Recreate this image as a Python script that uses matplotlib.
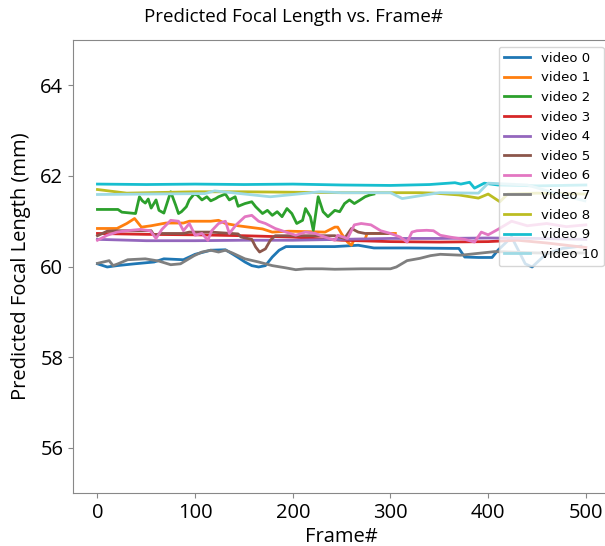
import matplotlib.pyplot as plt

# frame numbers / predicted focal length (mm)
v0_x = [0, 10, 20, 38, 58, 68, 88, 100, 116, 131, 138, 144, 151, 158, 165, 172, 179, 186, 193, 243, 267, 283, 317, 365, 370, 376, 390, 404, 410, 424, 438, 445, 459, 476, 495]
v0_y = [60.06, 59.99, 60.02, 60.06, 60.1, 60.17, 60.15, 60.27, 60.36, 60.37, 60.28, 60.2, 60.1, 60.02, 59.99, 60.02, 60.21, 60.36, 60.44, 60.44, 60.47, 60.41, 60.41, 60.4, 60.4, 60.21, 60.2, 60.2, 60.36, 60.65, 60.06, 59.99, 60.27, 60.4, 60.45]

v1_x = [0, 20, 30, 38, 45, 55, 70, 88, 94, 116, 124, 131, 144, 169, 179, 196, 233, 243, 246, 250, 256, 260, 263, 274, 276, 305]
v1_y = [60.84, 60.84, 60.95, 61.06, 60.87, 60.9, 60.96, 60.96, 61.0, 61.0, 61.02, 60.95, 60.9, 60.83, 60.76, 60.78, 60.76, 60.87, 60.87, 60.72, 60.54, 60.47, 60.6, 60.6, 60.73, 60.73]

v2_x = [0, 21, 25, 39, 43, 46, 49, 52, 55, 60, 63, 68, 75, 80, 83, 86, 91, 94, 99, 102, 107, 112, 116, 121, 124, 131, 135, 141, 144, 151, 158, 162, 169, 174, 179, 184, 189, 194, 199, 204, 210, 213, 218, 221, 226, 231, 236, 243, 248, 253, 258, 263, 269, 274, 279, 283]
v2_y = [61.26, 61.26, 61.2, 61.17, 61.54, 61.45, 61.4, 61.49, 61.29, 61.47, 61.24, 61.18, 61.65, 61.36, 61.17, 61.21, 61.32, 61.47, 61.6, 61.58, 61.47, 61.54, 61.45, 61.5, 61.54, 61.6, 61.47, 61.54, 61.33, 61.39, 61.43, 61.32, 61.17, 61.24, 61.13, 61.21, 61.1, 61.28, 61.17, 60.95, 61.02, 61.28, 61.1, 60.8, 61.54, 61.21, 61.1, 61.24, 61.21, 61.39, 61.47, 61.39, 61.47, 61.54, 61.58, 61.6]

v3_x = [0, 50, 100, 150, 200, 250, 300, 350, 400, 430, 460, 500]
v3_y = [60.73, 60.71, 60.7, 60.68, 60.65, 60.58, 60.55, 60.54, 60.55, 60.58, 60.52, 60.42]

v4_x = [0, 50, 100, 150, 200, 250, 300, 350, 400, 450, 500]
v4_y = [60.6, 60.57, 60.57, 60.58, 60.58, 60.6, 60.62, 60.62, 60.63, 60.62, 60.6]

v5_x = [0, 10, 21, 55, 58, 65, 88, 94, 116, 144, 147, 158, 162, 166, 172, 177, 182, 243, 253, 260, 267, 274, 297]
v5_y = [60.68, 60.78, 60.79, 60.79, 60.69, 60.73, 60.73, 60.76, 60.76, 60.72, 60.65, 60.6, 60.43, 60.32, 60.39, 60.58, 60.68, 60.68, 60.62, 60.84, 60.76, 60.73, 60.73]

v6_x = [0, 10, 20, 30, 44, 54, 60, 66, 75, 83, 88, 94, 100, 107, 113, 117, 124, 131, 135, 142, 151, 158, 165, 172, 182, 193, 203, 213, 223, 233, 243, 246, 256, 263, 270, 280, 290, 300, 310, 317, 322, 327, 337, 344, 351, 361, 376, 386, 393, 400, 410, 424, 440, 460, 480, 500]
v6_y = [60.58, 60.69, 60.76, 60.79, 60.82, 60.79, 60.62, 60.82, 61.02, 61.0, 60.79, 60.95, 60.69, 60.73, 60.58, 60.79, 60.95, 61.0, 60.73, 60.92, 61.1, 61.13, 61.0, 60.95, 60.84, 60.76, 60.69, 60.76, 60.73, 60.65, 60.58, 60.69, 60.62, 60.92, 60.95, 60.92, 60.79, 60.73, 60.65, 60.54, 60.76, 60.79, 60.8, 60.79, 60.69, 60.65, 60.6, 60.54, 60.76, 60.7, 60.82, 61.0, 60.9, 60.95, 60.88, 60.92]

v7_x = [0, 12, 16, 21, 31, 49, 63, 75, 85, 99, 107, 116, 124, 131, 138, 144, 151, 165, 179, 193, 203, 213, 230, 243, 270, 300, 306, 317, 330, 341, 351, 372, 407, 450, 500]
v7_y = [60.07, 60.13, 60.02, 60.06, 60.15, 60.17, 60.12, 60.04, 60.06, 60.24, 60.32, 60.36, 60.32, 60.36, 60.3, 60.24, 60.17, 60.1, 60.02, 59.97, 59.93, 59.95, 59.95, 59.94, 59.95, 59.95, 59.99, 60.13, 60.18, 60.24, 60.27, 60.25, 60.33, 60.3, 60.3]

v8_x = [0, 30, 100, 150, 200, 250, 330, 345, 370, 390, 400, 412, 420, 450, 500]
v8_y = [61.7, 61.62, 61.65, 61.65, 61.64, 61.63, 61.63, 61.62, 61.58, 61.51, 61.6, 61.43, 61.6, 61.62, 61.6]

v9_x = [0, 50, 100, 150, 200, 250, 300, 340, 366, 372, 381, 386, 396, 410, 450, 500]
v9_y = [61.82, 61.81, 61.82, 61.81, 61.82, 61.8, 61.79, 61.81, 61.85, 61.82, 61.86, 61.73, 61.84, 61.8, 61.78, 61.8]

v10_x = [0, 50, 110, 120, 177, 228, 250, 300, 312, 350, 390, 400, 440, 480, 499]
v10_y = [61.59, 61.6, 61.61, 61.67, 61.54, 61.65, 61.63, 61.63, 61.5, 61.63, 61.62, 61.84, 61.8, 61.55, 61.45]

xs = [v0_x, v1_x, v2_x, v3_x, v4_x, v5_x, v6_x, v7_x, v8_x, v9_x, v10_x]
ys = [v0_y, v1_y, v2_y, v3_y, v4_y, v5_y, v6_y, v7_y, v8_y, v9_y, v10_y]
labels = [f"video {i}" for i in range(11)]
colors = ["#1f77b4", "#ff7f0e", "#2ca02c", "#d62728", "#9467bd", "#8c564b",
          "#e377c2", "#7f7f7f", "#bcbd22", "#17becf", "#9edae5"]

fig = plt.figure(figsize=(6.05, 5.46), dpi=100)
ax = fig.add_axes([0.1207, 0.0970, 0.888, 0.8297])

for x, y, lab, c in zip(xs, ys, labels, colors):
    ax.plot(x, y, label=lab, color=c, lw=2)

ax.set_xlim(-25, 525)
ax.set_ylim(55, 65)
ax.set_xticks([0, 100, 200, 300, 400, 500])
ax.set_yticks([56, 58, 60, 62, 64])
for s in ax.spines.values():
    s.set_color("#888888")
ax.tick_params(color="#888888")
for t in ax.get_xticklabels() + ax.get_yticklabels():
    t.set_fontfamily("Open Sans")
    t.set_fontsize(14.5)

ax.set_xlabel("Frame#", fontfamily="Open Sans", fontsize=14.5, labelpad=3)
ax.set_ylabel("Predicted Focal Length (mm)", fontfamily="Open Sans", fontsize=14.5, labelpad=7)
fig.text(293 / 605, 0.969, "Predicted Focal Length vs. Frame#", ha="center", va="center",
         fontfamily="Open Sans", fontsize=13.5)

ax.legend(loc="upper right", fontsize=9.5)

fig.savefig("out.png", dpi=100)
